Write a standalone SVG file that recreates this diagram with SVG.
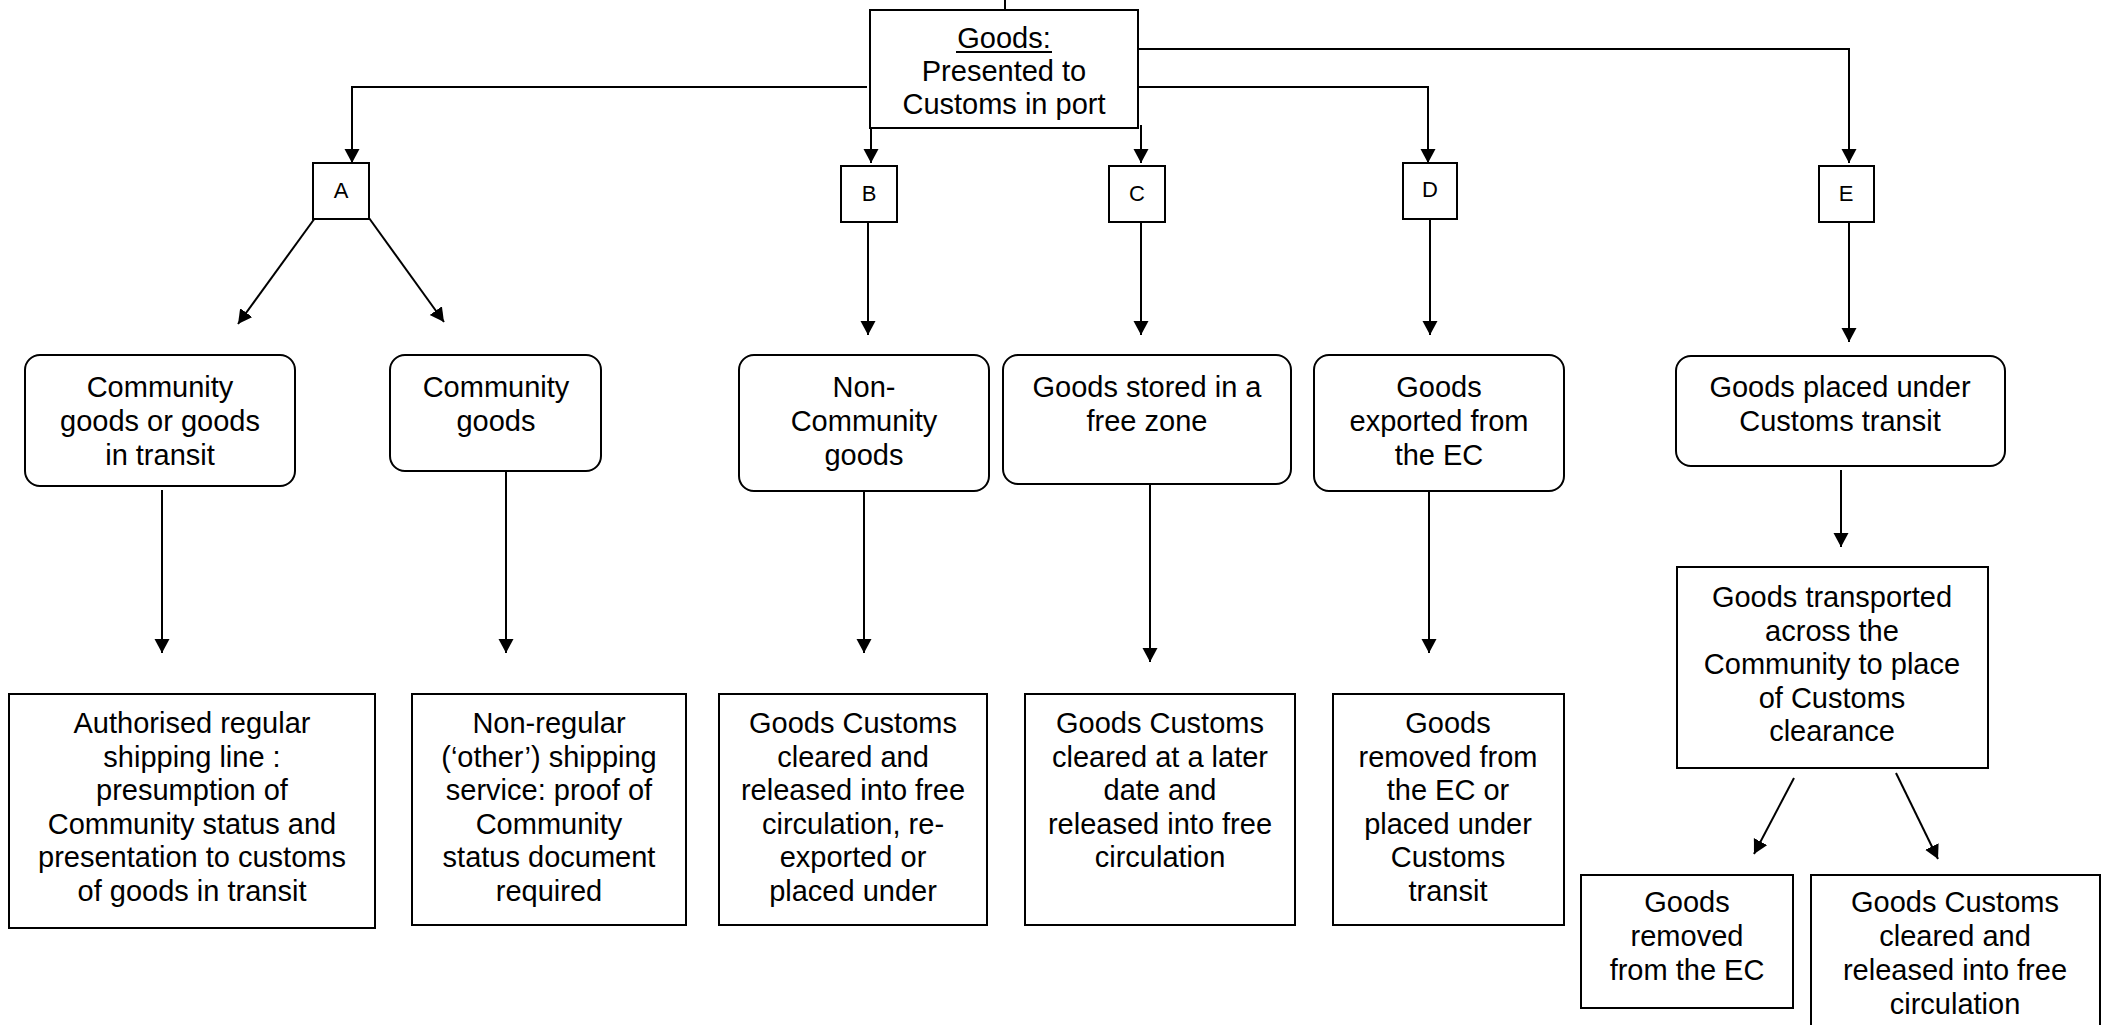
<svg xmlns="http://www.w3.org/2000/svg" width="2107" height="1025" viewBox="0 0 2107 1025">
<style>
  .box { fill: #ffffff; stroke: #000000; stroke-width: 2; }
  .lbl { font-family: "Liberation Sans", Arial, sans-serif; font-size: 29px; fill: #000000; text-anchor: middle; }
  .let { font-family: "Liberation Sans", Arial, sans-serif; font-size: 22px; fill: #000000; text-anchor: middle; }
  .con { fill: none; stroke: #000000; stroke-width: 2; }
  .arr { fill: none; stroke: #000000; stroke-width: 2; marker-end: url(#ah); }
</style>
<defs>
  <marker id="ah" markerUnits="userSpaceOnUse" markerWidth="16" markerHeight="16" refX="14" refY="7.5" orient="auto">
    <path d="M0,0 L14,7.5 L0,15 Z" fill="#000000"/>
  </marker>
</defs>
<rect x="0" y="0" width="2107" height="1025" fill="#ffffff"/>

<g id="connectors">
  <line class="con" x1="1005" y1="0" x2="1005" y2="10"/>
  <path class="arr" d="M867,87 H352 V163"/>
  <line class="arr" x1="871" y1="128" x2="871" y2="163"/>
  <line class="arr" x1="1141" y1="125" x2="1141" y2="163"/>
  <path class="arr" d="M1138,87 H1428 V163"/>
  <path class="arr" d="M1138,49 H1849 V163"/>
  <line class="arr" x1="315" y1="218" x2="238" y2="324"/>
  <line class="arr" x1="369" y1="218" x2="444" y2="322"/>
  <line class="arr" x1="868" y1="222" x2="868" y2="335"/>
  <line class="arr" x1="1141" y1="222" x2="1141" y2="335"/>
  <line class="arr" x1="1430" y1="219" x2="1430" y2="335"/>
  <line class="arr" x1="1849" y1="222" x2="1849" y2="342"/>
  <line class="arr" x1="162" y1="490" x2="162" y2="653"/>
  <line class="arr" x1="506" y1="471" x2="506" y2="653"/>
  <line class="arr" x1="864" y1="491" x2="864" y2="653"/>
  <line class="arr" x1="1150" y1="484" x2="1150" y2="662"/>
  <line class="arr" x1="1429" y1="491" x2="1429" y2="653"/>
  <line class="arr" x1="1841" y1="470" x2="1841" y2="547"/>
  <line class="arr" x1="1794" y1="778" x2="1754" y2="854"/>
  <line class="arr" x1="1896" y1="773" x2="1938" y2="859"/>
</g>

<g id="goods">
  <rect class="box" x="870" y="10" width="268" height="118"/>
  <text class="lbl" x="1004" y="48">Goods:</text>
  <line x1="956" y1="52" x2="1052" y2="52" stroke="#000000" stroke-width="2"/>
  <text class="lbl" x="1004" y="81">Presented to</text>
  <text class="lbl" x="1004" y="114">Customs in port</text>
</g>

<g id="A">
  <rect class="box" x="313" y="163" width="56" height="56"/>
  <text class="let" x="341" y="198">A</text>
</g>
<g id="B">
  <rect class="box" x="841" y="166" width="56" height="56"/>
  <text class="let" x="869" y="201">B</text>
</g>
<g id="C">
  <rect class="box" x="1109" y="166" width="56" height="56"/>
  <text class="let" x="1137" y="201">C</text>
</g>
<g id="D">
  <rect class="box" x="1403" y="163" width="54" height="56"/>
  <text class="let" x="1430" y="197">D</text>
</g>
<g id="E">
  <rect class="box" x="1819" y="166" width="55" height="56"/>
  <text class="let" x="1846" y="201">E</text>
</g>

<g id="a-community-transit">
  <rect class="box" x="25" y="355" width="270" height="131" rx="15" ry="15"/>
  <text class="lbl" x="160" y="397">Community</text>
  <text class="lbl" x="160" y="431">goods or goods</text>
  <text class="lbl" x="160" y="465">in transit</text>
</g>
<g id="a-community">
  <rect class="box" x="390" y="355" width="211" height="116" rx="15" ry="15"/>
  <text class="lbl" x="496" y="397">Community</text>
  <text class="lbl" x="496" y="431">goods</text>
</g>
<g id="b-noncommunity">
  <rect class="box" x="739" y="355" width="250" height="136" rx="15" ry="15"/>
  <text class="lbl" x="864" y="397">Non-</text>
  <text class="lbl" x="864" y="431">Community</text>
  <text class="lbl" x="864" y="465">goods</text>
</g>
<g id="c-freezone">
  <rect class="box" x="1003" y="355" width="288" height="129" rx="15" ry="15"/>
  <text class="lbl" x="1147" y="397">Goods stored in a</text>
  <text class="lbl" x="1147" y="431">free zone</text>
</g>
<g id="d-exported">
  <rect class="box" x="1314" y="355" width="250" height="136" rx="15" ry="15"/>
  <text class="lbl" x="1439" y="397">Goods</text>
  <text class="lbl" x="1439" y="431">exported from</text>
  <text class="lbl" x="1439" y="465">the EC</text>
</g>
<g id="e-transit">
  <rect class="box" x="1676" y="356" width="329" height="110" rx="15" ry="15"/>
  <text class="lbl" x="1840" y="397">Goods placed under</text>
  <text class="lbl" x="1840" y="431">Customs transit</text>
</g>

<g id="a-regular">
  <rect class="box" x="9" y="694" width="366" height="234"/>
  <text class="lbl" x="192" y="733">Authorised regular</text>
  <text class="lbl" x="192" y="767">shipping line :</text>
  <text class="lbl" x="192" y="800">presumption of</text>
  <text class="lbl" x="192" y="834">Community status and</text>
  <text class="lbl" x="192" y="867">presentation to customs</text>
  <text class="lbl" x="192" y="901">of goods in transit</text>
</g>
<g id="a-nonregular">
  <rect class="box" x="412" y="694" width="274" height="231"/>
  <text class="lbl" x="549" y="733">Non-regular</text>
  <text class="lbl" x="549" y="767">(‘other’) shipping</text>
  <text class="lbl" x="549" y="800">service: proof of</text>
  <text class="lbl" x="549" y="834">Community</text>
  <text class="lbl" x="549" y="867">status document</text>
  <text class="lbl" x="549" y="901">required</text>
</g>
<g id="b-cleared">
  <rect class="box" x="719" y="694" width="268" height="231"/>
  <text class="lbl" x="853" y="733">Goods Customs</text>
  <text class="lbl" x="853" y="767">cleared and</text>
  <text class="lbl" x="853" y="800">released into free</text>
  <text class="lbl" x="853" y="834">circulation, re-</text>
  <text class="lbl" x="853" y="867">exported or</text>
  <text class="lbl" x="853" y="901">placed under</text>
</g>
<g id="c-later">
  <rect class="box" x="1025" y="694" width="270" height="231"/>
  <text class="lbl" x="1160" y="733">Goods Customs</text>
  <text class="lbl" x="1160" y="767">cleared at a later</text>
  <text class="lbl" x="1160" y="800">date and</text>
  <text class="lbl" x="1160" y="834">released into free</text>
  <text class="lbl" x="1160" y="867">circulation</text>
</g>
<g id="d-removed">
  <rect class="box" x="1333" y="694" width="231" height="231"/>
  <text class="lbl" x="1448" y="733">Goods</text>
  <text class="lbl" x="1448" y="767">removed from</text>
  <text class="lbl" x="1448" y="800">the EC or</text>
  <text class="lbl" x="1448" y="834">placed under</text>
  <text class="lbl" x="1448" y="867">Customs</text>
  <text class="lbl" x="1448" y="901">transit</text>
</g>
<g id="e-transported">
  <rect class="box" x="1677" y="567" width="311" height="201"/>
  <text class="lbl" x="1832" y="607">Goods transported</text>
  <text class="lbl" x="1832" y="641">across the</text>
  <text class="lbl" x="1832" y="674">Community to place</text>
  <text class="lbl" x="1832" y="708">of Customs</text>
  <text class="lbl" x="1832" y="741">clearance</text>
</g>
<g id="e-removed">
  <rect class="box" x="1581" y="875" width="212" height="133"/>
  <text class="lbl" x="1687" y="912">Goods</text>
  <text class="lbl" x="1687" y="946">removed</text>
  <text class="lbl" x="1687" y="980">from the EC</text>
</g>
<g id="e-cleared">
  <rect class="box" x="1811" y="875" width="289" height="160"/>
  <text class="lbl" x="1955" y="912">Goods Customs</text>
  <text class="lbl" x="1955" y="946">cleared and</text>
  <text class="lbl" x="1955" y="980">released into free</text>
  <text class="lbl" x="1955" y="1014">circulation</text>
</g>
</svg>
